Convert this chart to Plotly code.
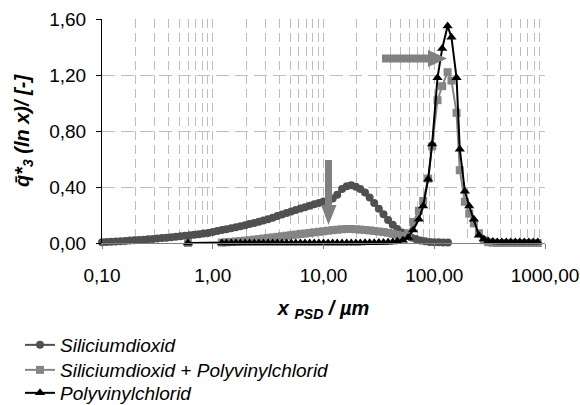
import plotly.graph_objects as go

# ---------------- data ----------------
x_sio2 = [0.100, 0.110, 0.121, 0.133, 0.147, 0.162, 0.178, 0.196, 0.215, 0.237, 0.261, 0.287,
          0.316, 0.348, 0.383, 0.422, 0.464, 0.511, 0.562, 0.619, 0.681, 0.750, 0.825, 0.909,
          1.00, 1.10, 1.21, 1.33, 1.47, 1.62, 1.78, 1.96, 2.15, 2.37, 2.61, 2.87,
          3.16, 3.48, 3.83, 4.22, 4.64, 5.11, 5.62, 6.19, 6.81, 7.50, 8.25, 9.09,
          10.0, 11.0, 12.1, 13.3, 14.7, 16.2, 17.8, 19.6, 21.5, 23.7, 26.1, 28.7,
          31.6, 34.8, 38.3, 42.2, 46.4, 51.1, 56.2, 61.9, 68.1, 75.0, 82.5, 90.9,
          100.0, 110.0, 121.0, 133.0]
y_sio2 = [0.005, 0.007, 0.009, 0.011, 0.013, 0.015, 0.017, 0.019, 0.021, 0.023, 0.026, 0.029,
          0.032, 0.035, 0.038, 0.041, 0.045, 0.048, 0.052, 0.055, 0.059, 0.063, 0.067, 0.072,
          0.078, 0.085, 0.092, 0.099, 0.106, 0.113, 0.120, 0.127, 0.135, 0.143, 0.152, 0.161,
          0.170, 0.181, 0.192, 0.203, 0.214, 0.225, 0.236, 0.246, 0.256, 0.266, 0.276, 0.286,
          0.296, 0.306, 0.318, 0.345, 0.385, 0.405, 0.412, 0.402, 0.385, 0.360, 0.325, 0.285,
          0.245, 0.205, 0.165, 0.130, 0.100, 0.075, 0.055, 0.040, 0.028, 0.018, 0.012, 0.008,
          0.006, 0.005, 0.004, 0.004]

x_pvc = [0.597,
         1.21, 1.33, 1.47, 1.62, 1.78, 1.96, 2.15, 2.37, 2.61, 2.87, 3.16,
         3.48, 3.83, 4.22, 4.64, 5.11, 5.62, 6.19, 6.81, 7.50, 8.25, 9.09,
         10.0, 11.0, 12.1, 13.3, 14.7, 16.2, 17.8, 19.6, 21.5, 23.7, 26.1, 28.7,
         31.6, 34.8, 38.3, 42.2, 46.4,
         52.1, 58.1, 64.5, 72.6, 79.4, 88.1, 95.7, 107.0, 118.0, 132.0, 143.0,
         159.0, 170.0, 189.0, 207.0, 228.0, 253.0,
         280.0, 307.0, 338.0, 371.0, 407.0, 447.0, 491.0, 539.0, 592.0, 650.0,
         714.0, 784.0, 860.0]

y_mix = [0.0,
         0.003, 0.005, 0.008, 0.011, 0.014, 0.017, 0.020, 0.024, 0.028, 0.032, 0.036,
         0.040, 0.044, 0.048, 0.052, 0.056, 0.060, 0.064, 0.068, 0.072, 0.076, 0.080,
         0.084, 0.088, 0.092, 0.095, 0.098, 0.100, 0.100, 0.098, 0.096, 0.093, 0.090, 0.086,
         0.082, 0.078, 0.073, 0.066, 0.058,
         0.050, 0.070, 0.150, 0.230, 0.300, 0.460, 0.690, 1.020, 1.120, 1.220, 1.160,
         0.930, 0.520, 0.295, 0.210, 0.140, 0.070,
         0.020, 0.006, 0.002, 0.0, 0.0, 0.0, 0.0, 0.0, 0.0, 0.0,
         0.0, 0.0, 0.0]

y_pvc = [0.0,
         0.0, 0.0, 0.0, 0.0, 0.0, 0.0, 0.0, 0.0, 0.0, 0.0, 0.0,
         0.0, 0.0, 0.0, 0.0, 0.0, 0.0, 0.0, 0.0, 0.0, 0.0, 0.0,
         0.0, 0.0, 0.0, 0.0, 0.0, 0.0, 0.0, 0.0, 0.0, 0.001, 0.001, 0.002,
         0.003, 0.004, 0.006, 0.008, 0.012,
         0.020, 0.040, 0.093, 0.169, 0.264, 0.455, 0.707, 1.180, 1.390, 1.550, 1.470,
         1.180, 0.670, 0.370, 0.264, 0.170, 0.055,
         0.028, 0.015, 0.010, 0.008, 0.008, 0.008, 0.008, 0.008, 0.008, 0.008,
         0.008, 0.008, 0.008]

series_names = ["Siliciumdioxid", "Siliciumdioxid + Polyvinylchlorid", "Polyvinylchlorid"]

x_tickvals = [0.1, 1, 10, 100, 1000]
x_ticktext = ["0,10", "1,00", "10,00", "100,00", "1000,00"]
y_tickvals = [0.0, 0.4, 0.8, 1.2, 1.6]
y_ticktext = ["0,00", "0,40", "0,80", "1,20", "1,60"]

# ---------------- figure ----------------
FONT = "Liberation Sans"
W, H = 580, 405
L, R, T, B = 102, 35, 19, 162
PW, PH = W - L - R, H - T - B

fig = go.Figure()
fig.add_trace(go.Scatter(x=x_sio2, y=y_sio2, name=series_names[0], mode="lines+markers",
                         line=dict(color="#505050", width=2),
                         marker=dict(symbol="circle", size=8, color="#505050"),
                         cliponaxis=False, legend="legend"))
fig.add_trace(go.Scatter(x=x_pvc, y=y_mix, name=series_names[1], mode="lines+markers",
                         line=dict(color="#858585", width=2),
                         marker=dict(symbol="square", size=8, color="#858585"),
                         cliponaxis=False, legend="legend2"))
fig.add_trace(go.Scatter(x=x_pvc, y=y_pvc, name=series_names[2], mode="lines+markers",
                         line=dict(color="#000000", width=2),
                         marker=dict(symbol="triangle-up", size=9, color="#000000"),
                         cliponaxis=False, legend="legend3"))

minor_vals = [m * 10 ** e for e in range(-1, 3) for m in range(2, 10)]

fig.update_xaxes(type="log", range=[-1, 3],
                 tickvals=x_tickvals, ticktext=x_ticktext,
                 ticks="outside", ticklen=5, tickcolor="#808080",
                 ticklabelstandoff=10,
                 showline=True, linecolor="#808080", linewidth=1,
                 showgrid=True, gridcolor="#bdbdbd", griddash="9px,5px", gridwidth=1,
                 minor=dict(tickvals=minor_vals, showgrid=True, gridcolor="#bdbdbd",
                            griddash="9px,5px", gridwidth=1, ticks=""),
                 zeroline=False,
                 tickfont=dict(family=FONT, size=19, color="black"),
                 title=dict(text="<b><i>x <sub>PSD</sub> / µm</i></b>",
                            font=dict(family=FONT, size=20, color="black"), standoff=16))
fig.update_yaxes(range=[0, 1.6], tickvals=y_tickvals, ticktext=y_ticktext,
                 ticks="outside", ticklen=5, tickcolor="black",
                 ticklabelstandoff=6,
                 showline=True, linecolor="black", linewidth=1,
                 showgrid=True, gridcolor="#bdbdbd", griddash="13px,6px", gridwidth=1,
                 zeroline=False,
                 tickfont=dict(family=FONT, size=19, color="black"),
                 title=dict(text="<b><i>q\u0304*<sub>3</sub> (ln x)/ [-]</i></b>",
                            font=dict(family=FONT, size=20, color="black"), standoff=14))


def px2paper(px, py):
    return (px - L) / PW, (H - B - py) / PH


def poly(points):
    pts = [px2paper(a, b) for a, b in points]
    return "M " + " L ".join(f"{a:.4f},{b:.4f}" for a, b in pts) + " Z"


arrow_v = [(325, 160), (332, 160), (332, 205), (336.5, 205), (328.5, 225), (321, 205), (325, 205)]
arrow_h = [(382, 54.5), (428, 54.5), (428, 50), (447, 58.5), (428, 67), (428, 62.5), (382, 62.5)]
for shp in (arrow_v, arrow_h):
    fig.add_shape(type="path", path=poly(shp), xref="paper", yref="paper",
                  fillcolor="#808080", line=dict(width=0), layer="above")

legend_font = dict(family=FONT, size=19, color="black", style="italic")
legend_x = px2paper(20, 0)[0]
legend_common = dict(x=legend_x, xanchor="left", yanchor="middle", orientation="v",
                     bgcolor="rgba(0,0,0,0)", font=legend_font, itemwidth=30)

fig.update_layout(width=W, height=H,
                  margin=dict(l=L, r=R, t=T, b=B, autoexpand=False),
                  paper_bgcolor="white", plot_bgcolor="white",
                  font=dict(family=FONT, size=19, color="black"),
                  showlegend=True,
                  legend=dict(y=px2paper(0, 345)[1], **legend_common),
                  legend2=dict(y=px2paper(0, 370)[1], **legend_common),
                  legend3=dict(y=px2paper(0, 393)[1], **legend_common))

fig.write_html("out.html")
